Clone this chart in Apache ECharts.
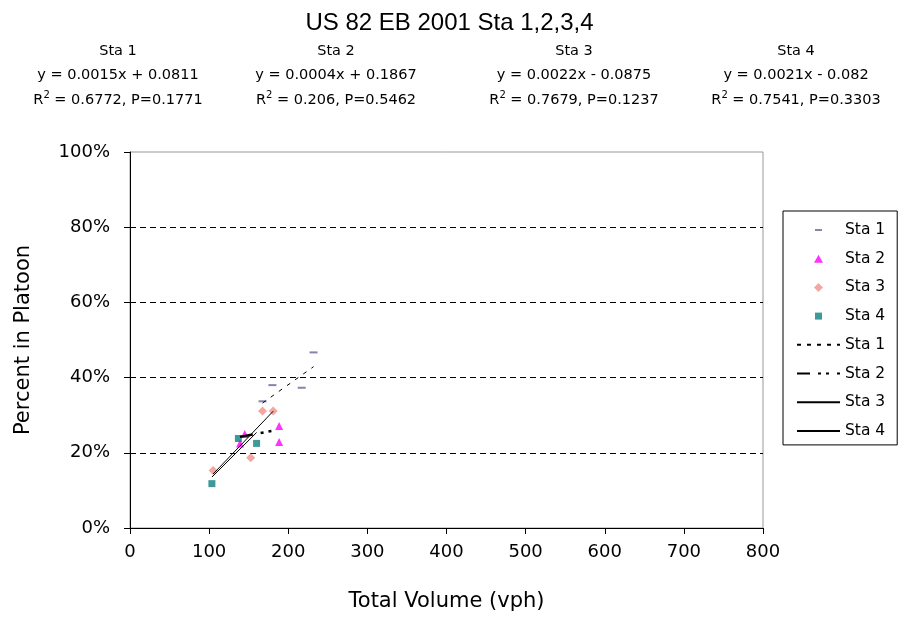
<!DOCTYPE html>
<html>
<head>
<meta charset="utf-8">
<script src="https://cdn.jsdelivr.net/npm/echarts@6/dist/echarts.min.js"></script>
<style>html,body{margin:0;padding:0;background:#fff}#c{width:899px;height:618px}</style>
</head>
<body>
<div id="c"></div>
<script>
// ---- data ----
var stationNames = ['Sta 1', 'Sta 2', 'Sta 3', 'Sta 4'];
var sta1X = [232, 180, 217, 167.5];
var sta1Y = [0.467, 0.380, 0.373, 0.337];
var sta2X = [145, 139, 188.5, 188.5];
var sta2Y = [0.250, 0.225, 0.271, 0.229];
var sta3X = [167.5, 181, 152.5, 105];
var sta3Y = [0.311, 0.311, 0.187, 0.153];
var sta4X = [137, 160, 103.5];
var sta4Y = [0.238, 0.225, 0.118];
var slopes = [0.0015, 0.0004, 0.0022, 0.0021];
var intercepts = [0.0811, 0.1867, -0.0875, -0.082];
var rSquared = ['0.6772', '0.206', '0.7679', '0.7541'];
var pValues = ['0.1771', '0.5462', '0.1237', '0.3303'];
var xTicks = [0, 100, 200, 300, 400, 500, 600, 700, 800];
var yTicks = [0, 0.2, 0.4, 0.6, 0.8, 1.0];

var FONT = '"DejaVu Sans", sans-serif';
var TFONT = '"Liberation Sans", Arial, sans-serif';
var xs = [sta1X, sta2X, sta3X, sta4X];
var ys = [sta1Y, sta2Y, sta3Y, sta4Y];
var colors = ['#666699', '#FF00FF', '#F4908A', '#0F7F7F'];
var symbols = ['rect', 'triangle', 'diamond', 'rect'];
var symSizes = [[8, 2], [8, 8], [9, 9], [7, 7]];
// legend icons: small marker centred in a 43x14 box
var legendIcons = [
  'path://M0 0M43 0M0 14M43 14M18 6L25 6L25 8L18 8Z',
  'path://M0 0M43 0M0 14M43 14M21.5 3L26 11L17 11Z',
  'path://M0 0M43 0M0 14M43 14M21.5 2.5L26 7L21.5 11.5L17 7Z',
  'path://M0 0M43 0M0 14M43 14M18 3.5L25 3.5L25 10.5L18 10.5Z'
];
var trendStyles = [
  {type: [4, 6], width: 1},
  {type: [13, 8, 3, 5, 3, 8], width: 2.5},
  {type: 'solid', width: 1},
  {type: 'solid', width: 1}
];

var series = [];
stationNames.forEach(function (n, i) {
  series.push({
    name: n, type: 'scatter',
    symbol: symbols[i], symbolSize: symSizes[i],
    itemStyle: {color: colors[i]},
    data: xs[i].map(function (x, k) { return [x, ys[i][k]]; }),
    z: 3
  });
});
stationNames.forEach(function (n, i) {
  var lo = Math.min.apply(null, xs[i]), hi = Math.max.apply(null, xs[i]);
  series.push({
    name: n + ' trend', type: 'line', symbol: 'none', silent: true,
    lineStyle: {color: '#000', type: trendStyles[i].type, width: trendStyles[i].width},
    itemStyle: {color: '#000'},
    data: [[lo, slopes[i] * lo + intercepts[i]], [hi, slopes[i] * hi + intercepts[i]]],
    z: 4
  });
});

var blockCenters = [118, 336, 574, 796];
var graphics = [];
stationNames.forEach(function (n, i) {
  var b = intercepts[i];
  var eq = 'y = ' + slopes[i] + 'x ' + (b < 0 ? '- ' : '+ ') + Math.abs(b);
  var lines = [
    n,
    eq,
    'R{sup|2} = ' + rSquared[i] + ', P=' + pValues[i]
  ];
  lines.forEach(function (t, j) {
    graphics.push({
      type: 'text', x: blockCenters[i], y: 51 + j * 24.5,
      style: {
        text: t, textAlign: 'center', textVerticalAlign: 'middle',
        fontFamily: FONT, fontSize: 14.5, fill: '#000',
        rich: {sup: {fontSize: 10, fontFamily: FONT, padding: [0, 0, 10, 0], fill: '#000'}}
      }
    });
  });
});

var chart = echarts.init(document.getElementById('c'), null, {renderer: 'canvas'});
chart.setOption({
  backgroundColor: '#fff',
  animation: false,
  textStyle: {fontFamily: FONT, color: '#000'},
  title: {
    text: 'US 82 EB 2001 Sta 1,2,3,4', left: 'center', top: 6,
    textStyle: {fontFamily: TFONT, fontSize: 24, fontWeight: 'normal', color: '#000'}
  },
  graphic: graphics,
  grid: {left: 130, right: 136, top: 152, bottom: 90, show: true, borderColor: '#999', borderWidth: 1, backgroundColor: '#fff'},
  legend: {
    orient: 'vertical', left: 783, top: 211,
    padding: [11, 12, 6, 13],
    borderColor: '#000', borderWidth: 1,
    itemWidth: 43, itemHeight: 14, itemGap: 12.7,
    textStyle: {fontFamily: FONT, fontSize: 15.5, color: '#000'},
    formatter: function (name) { return name.replace(' trend', ''); },
    data: stationNames.map(function (n, k) {
      return {name: n, icon: legendIcons[k]};
    }).concat(stationNames.map(function (n) {
      return {name: n + ' trend', itemStyle: {opacity: 0}};
    }))
  },
  xAxis: {
    type: 'value', min: xTicks[0], max: xTicks[xTicks.length - 1], interval: 100,
    name: 'Total Volume (vph)', nameLocation: 'middle', nameGap: 63,
    nameTextStyle: {fontFamily: FONT, fontSize: 21, color: '#000'},
    axisLine: {show: true, onZero: false, lineStyle: {color: '#000', width: 1}},
    axisTick: {show: true, length: 6, lineStyle: {color: '#000'}},
    axisLabel: {fontFamily: FONT, fontSize: 18, color: '#000', margin: 15},
    splitLine: {show: false}
  },
  yAxis: {
    type: 'value', min: yTicks[0], max: yTicks[yTicks.length - 1], interval: 0.2,
    name: 'Percent in Platoon', nameLocation: 'middle', nameGap: 96,
    nameTextStyle: {fontFamily: FONT, fontSize: 21, color: '#000'},
    axisLine: {show: true, onZero: false, lineStyle: {color: '#000', width: 1}},
    axisTick: {show: true, length: 6, lineStyle: {color: '#000'}},
    axisLabel: {fontFamily: FONT, fontSize: 18, color: '#000', margin: 20,
      formatter: function (v) { return Math.round(v * 100) + '%'; }},
    splitLine: {show: true, showMinLine: false, showMaxLine: false, lineStyle: {color: '#000', type: [6, 4], width: 1}}
  },
  series: series
});
</script>
</body>
</html>
